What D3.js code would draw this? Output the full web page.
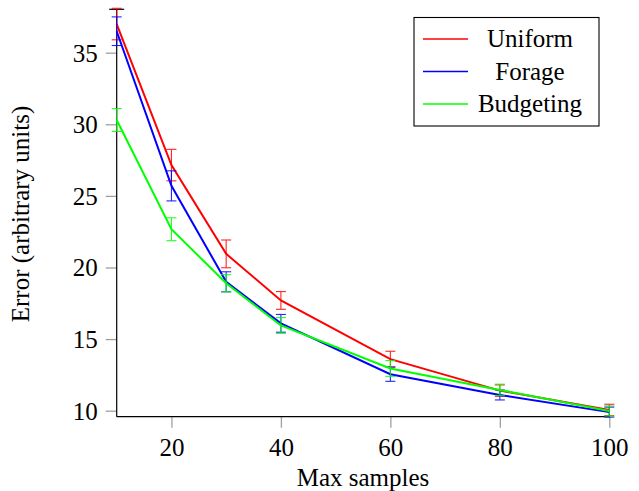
<!DOCTYPE html>
<html>
<head>
<meta charset="utf-8">
<script src="https://cdn.jsdelivr.net/npm/d3@7"></script>
<style>
  body { margin: 0; background: #fff; }
  svg text { font-family: "Liberation Serif", "DejaVu Serif", serif; fill: #000; }
</style>
</head>
<body>
<svg id="chart" width="639" height="491"></svg>
<script>
// data
const maxSamples = [10, 20, 30, 40, 60, 80, 100];
const uniform    = [37.0, 27.15, 20.95, 17.7, 13.6, 11.4, 10.05];
const uniformErr = [1.1, 1.1, 0.97, 0.62, 0.55, 0.4, 0.4];
const forage     = [36.5, 25.7, 19.0, 16.1, 12.55, 11.1, 9.9];
const forageErr  = [1.0, 1.05, 0.7, 0.62, 0.5, 0.35, 0.35];
const budgeting    = [30.3, 22.67, 18.9, 15.95, 12.95, 11.45, 9.98];
const budgetingErr = [0.8, 0.8, 0.6, 0.55, 0.55, 0.4, 0.35];
const xTicks = [20, 40, 60, 80, 100];
const yTicks = [10, 15, 20, 25, 30, 35];

const series = [
  {name: "Uniform", values: uniform, err: uniformErr, color: "#ff0000"},
  {name: "Forage", values: forage, err: forageErr, color: "#0000ff"},
  {name: "Budgeting", values: budgeting, err: budgetingErr, color: "#00ff00"}
];

const svg = d3.select("#chart");
const plotLeft = 116.7, plotRight = 609.3, plotTop = 9.3, plotBottom = 416.7;

const xScale = d3.scaleLinear().domain([10, 100]).range([plotLeft, plotRight]);
const yScale = d3.scaleLinear().domain([9.58, 38.03]).range([plotBottom, plotTop]);

// axes (ticks only, gray marks outside)
const xAxis = svg.append("g")
    .attr("transform", `translate(0,${plotBottom})`)
    .call(d3.axisBottom(xScale).tickValues(xTicks).tickSize(11).tickPadding(6));
const yAxis = svg.append("g")
    .attr("transform", `translate(${plotLeft},0)`)
    .call(d3.axisLeft(yScale).tickValues(yTicks).tickSize(11).tickPadding(8));
[xAxis, yAxis].forEach(a => {
  a.attr("font-family", "Liberation Serif").attr("font-size", 25);
  a.select(".domain").remove();
  a.selectAll(".tick line").attr("stroke", "#a0a0a0").attr("stroke-width", 1.3);
});
xAxis.selectAll(".tick text").attr("dy", "0.9em");
yAxis.selectAll(".tick text").attr("dy", "0.34em");

// axis lines
svg.append("line").attr("x1", plotLeft).attr("x2", plotLeft).attr("y1", plotTop).attr("y2", plotBottom)
   .attr("stroke", "#000").attr("stroke-width", 1.2);
svg.append("line").attr("x1", plotLeft).attr("x2", plotRight).attr("y1", plotBottom).attr("y2", plotBottom)
   .attr("stroke", "#000").attr("stroke-width", 1.2);
svg.append("line").attr("x1", plotLeft - 7.5).attr("x2", plotLeft + 7.5).attr("y1", plotTop).attr("y2", plotTop)
   .attr("stroke", "#000").attr("stroke-width", 1.2);

// series
const lineGen = d3.line().x((d, i) => xScale(maxSamples[i])).y(d => yScale(d));
series.forEach(s => {
  const g = svg.append("g");
  g.append("path")
    .attr("d", lineGen(s.values))
    .attr("fill", "none")
    .attr("stroke", s.color)
    .attr("stroke-width", 2);
  s.values.forEach((v, i) => {
    const x = xScale(maxSamples[i]);
    const y1 = yScale(v + s.err[i]);
    const y2 = yScale(v - s.err[i]);
    const eb = g.append("g").attr("stroke", s.color).attr("stroke-width", 1.1).attr("opacity", 0.85);
    eb.append("line").attr("x1", x).attr("x2", x).attr("y1", y1).attr("y2", y2);
    eb.append("line").attr("x1", x - 5).attr("x2", x + 5).attr("y1", y1).attr("y2", y1);
    eb.append("line").attr("x1", x - 5).attr("x2", x + 5).attr("y1", y2).attr("y2", y2);
  });
});

// axis labels
svg.append("text")
   .attr("x", (plotLeft + plotRight) / 2).attr("y", 486)
   .attr("text-anchor", "middle")
   .style("font-size", "25px")
   .text("Max samples");
svg.append("text")
   .attr("transform", "translate(29,214) rotate(-90)")
   .attr("text-anchor", "middle")
   .style("font-size", "25px")
   .text("Error (arbitrary units)");

// legend
const legend = svg.append("g");
legend.append("rect")
   .attr("x", 414).attr("y", 17.5).attr("width", 185).attr("height", 108.5)
   .attr("fill", "#fff").attr("stroke", "#000").attr("stroke-width", 1.1);
const rowY = [39, 71.5, 104];
series.forEach((s, i) => {
  legend.append("line")
    .attr("x1", 423).attr("x2", 468).attr("y1", rowY[i]).attr("y2", rowY[i])
    .attr("stroke", s.color).attr("stroke-width", 1.6);
  legend.append("text")
    .attr("x", 530).attr("y", rowY[i]).attr("dy", "0.33em")
    .attr("text-anchor", "middle")
    .style("font-size", "25px")
    .text(s.name);
});
</script>
</body>
</html>
